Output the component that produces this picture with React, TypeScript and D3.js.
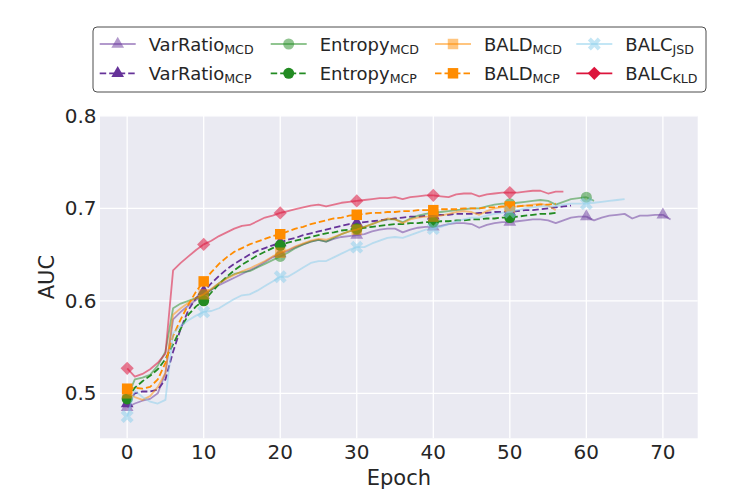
import React from 'react';
import * as d3 from 'd3';

// AUC per epoch (index = epoch)
const varRatioMCD = [
  0.485, 0.489, 0.492, 0.494, 0.500, 0.522, 0.580, 0.588, 0.595, 0.601,
  0.606, 0.612, 0.617, 0.621, 0.625, 0.629, 0.633, 0.637, 0.642, 0.647,
  0.651, 0.654, 0.658, 0.661, 0.664, 0.666, 0.664, 0.667, 0.669, 0.670,
  0.671, 0.672, 0.675, 0.677, 0.678, 0.678, 0.674, 0.677, 0.679, 0.680,
  0.680, 0.681, 0.683, 0.684, 0.684, 0.683, 0.679, 0.682, 0.684, 0.685,
  0.685, 0.686, 0.687, 0.688, 0.688, 0.687, 0.684, 0.687, 0.690, 0.691,
  0.691, 0.687, 0.690, 0.692, 0.693, 0.694, 0.689, 0.692, 0.692, 0.693,
  0.693, 0.688,
];
const varRatioMCP = [
  0.489, 0.500, 0.502, 0.502, 0.504, 0.515, 0.545, 0.570, 0.590, 0.603,
  0.610, 0.619, 0.627, 0.634, 0.640, 0.645, 0.650, 0.654, 0.657, 0.660,
  0.663, 0.666, 0.668, 0.671, 0.673, 0.675, 0.677, 0.679, 0.681, 0.683,
  0.684, 0.685, 0.686, 0.687, 0.688, 0.689, 0.690, 0.691, 0.691, 0.692,
  0.692, 0.693, 0.693, 0.694, 0.694, 0.694, 0.695, 0.695, 0.696, 0.696,
  0.696, 0.697, 0.698, 0.698, 0.699, 0.700, 0.701, 0.702, 0.703,
];
const entropyMCD = [
  0.495, 0.515, 0.517, 0.520, 0.530, 0.545, 0.592, 0.597, 0.600, 0.603,
  0.606, 0.612, 0.619, 0.625, 0.629, 0.631, 0.632, 0.636, 0.640, 0.644,
  0.648, 0.652, 0.657, 0.661, 0.664, 0.666, 0.664, 0.668, 0.672, 0.675,
  0.677, 0.680, 0.683, 0.686, 0.688, 0.688, 0.685, 0.689, 0.692, 0.694,
  0.695, 0.696, 0.697, 0.698, 0.699, 0.700, 0.700, 0.702, 0.704, 0.705,
  0.705, 0.706, 0.707, 0.708, 0.709, 0.708, 0.704, 0.707, 0.710, 0.711,
  0.712, 0.708,
];
const entropyMCP = [
  0.494, 0.506, 0.513, 0.519, 0.526, 0.537, 0.553, 0.570, 0.585, 0.594,
  0.600, 0.609, 0.618, 0.626, 0.633, 0.639, 0.644, 0.649, 0.653, 0.657,
  0.660, 0.663, 0.665, 0.667, 0.669, 0.671, 0.673, 0.674, 0.676, 0.677,
  0.678, 0.679, 0.680, 0.681, 0.682, 0.683, 0.683, 0.684, 0.684, 0.685,
  0.685, 0.686, 0.686, 0.687, 0.687, 0.688, 0.688, 0.689, 0.689, 0.690,
  0.690, 0.691, 0.692, 0.693, 0.694, 0.694, 0.695,
];
const baldMCD = [
  0.500, 0.496, 0.493, 0.497, 0.507, 0.522, 0.585, 0.592, 0.598, 0.603,
  0.607, 0.613, 0.619, 0.624, 0.628, 0.632, 0.635, 0.639, 0.643, 0.648,
  0.652, 0.655, 0.659, 0.662, 0.665, 0.667, 0.666, 0.669, 0.672, 0.675,
  0.677, 0.680, 0.683, 0.686, 0.689, 0.688, 0.684, 0.688, 0.690, 0.691,
  0.691, 0.692, 0.694, 0.696, 0.697, 0.696, 0.693, 0.697, 0.700, 0.701,
  0.701, 0.702, 0.703, 0.704, 0.705, 0.703, 0.698,
];
const baldMCP = [
  0.505, 0.506, 0.505, 0.507, 0.515, 0.533, 0.562, 0.580, 0.596, 0.610,
  0.621, 0.631, 0.640, 0.647, 0.653, 0.657, 0.661, 0.664, 0.667, 0.670,
  0.672, 0.675, 0.678, 0.680, 0.683, 0.685, 0.687, 0.689, 0.690, 0.692,
  0.693, 0.694, 0.695, 0.695, 0.696, 0.696, 0.697, 0.697, 0.698, 0.698,
  0.698, 0.699, 0.699, 0.699, 0.700, 0.700, 0.700, 0.701, 0.701, 0.702,
  0.702, 0.702, 0.703, 0.703, 0.704, 0.704, 0.705,
];
const balcJSD = [
  0.475, 0.503, 0.496, 0.491, 0.489, 0.493, 0.565, 0.573, 0.579, 0.584,
  0.588, 0.589, 0.592, 0.597, 0.602, 0.606, 0.607, 0.611, 0.616, 0.621,
  0.626, 0.626, 0.631, 0.636, 0.641, 0.643, 0.643, 0.647, 0.651, 0.655,
  0.658, 0.658, 0.662, 0.665, 0.668, 0.669, 0.668, 0.671, 0.674, 0.677,
  0.678, 0.680, 0.683, 0.686, 0.688, 0.690, 0.690, 0.692, 0.694, 0.695,
  0.696, 0.698, 0.700, 0.701, 0.702, 0.702, 0.702, 0.704, 0.705, 0.705,
  0.705, 0.706, 0.707, 0.708, 0.709, 0.710,
];
const balcKLD = [
  0.527, 0.518, 0.521, 0.526, 0.533, 0.543, 0.633, 0.641, 0.648, 0.655,
  0.661, 0.665, 0.670, 0.674, 0.678, 0.681, 0.682, 0.686, 0.690, 0.692,
  0.695, 0.697, 0.699, 0.701, 0.703, 0.704, 0.702, 0.704, 0.706, 0.707,
  0.708, 0.709, 0.710, 0.711, 0.711, 0.712, 0.710, 0.712, 0.713, 0.714,
  0.714, 0.713, 0.712, 0.715, 0.716, 0.716, 0.713, 0.715, 0.716, 0.717,
  0.717, 0.717, 0.718, 0.719, 0.719, 0.716, 0.718, 0.718,
];

const xTicks = [0, 10, 20, 30, 40, 50, 60, 70];
const yTicks = [0.5, 0.6, 0.7, 0.8];

type MarkerKind = 'triangle' | 'circle' | 'square' | 'x' | 'diamond';

interface Series {
  name: string;
  sub: string;
  values: number[];
  color: string;
  dashed: boolean;
  alpha: number;
  legendAlpha: number;
  marker: MarkerKind;
}

const PURPLE = '#663399';
const GREEN = '#228b22';
const ORANGE = '#ff8c00';
const SKY = '#87ceeb';
const CRIMSON = '#dc143c';

const series: Series[] = [
  { name: 'VarRatio', sub: 'MCD', values: varRatioMCD, color: PURPLE, dashed: false, alpha: 0.5, legendAlpha: 0.5, marker: 'triangle' },
  { name: 'VarRatio', sub: 'MCP', values: varRatioMCP, color: PURPLE, dashed: true, alpha: 1, legendAlpha: 1, marker: 'triangle' },
  { name: 'Entropy', sub: 'MCD', values: entropyMCD, color: GREEN, dashed: false, alpha: 0.5, legendAlpha: 0.5, marker: 'circle' },
  { name: 'Entropy', sub: 'MCP', values: entropyMCP, color: GREEN, dashed: true, alpha: 1, legendAlpha: 1, marker: 'circle' },
  { name: 'BALD', sub: 'MCD', values: baldMCD, color: ORANGE, dashed: false, alpha: 0.5, legendAlpha: 0.5, marker: 'square' },
  { name: 'BALD', sub: 'MCP', values: baldMCP, color: ORANGE, dashed: true, alpha: 1, legendAlpha: 1, marker: 'square' },
  { name: 'BALC', sub: 'JSD', values: balcJSD, color: SKY, dashed: false, alpha: 0.5, legendAlpha: 0.5, marker: 'x' },
  { name: 'BALC', sub: 'KLD', values: balcKLD, color: CRIMSON, dashed: false, alpha: 0.55, legendAlpha: 1, marker: 'diamond' },
];

const W = 747;
const H = 503;
const plot = { left: 100, right: 697.7, top: 115.8, bottom: 438.3 };
const FONT = '"DejaVu Sans", Verdana, sans-serif';
const TEXT = '#262626';

const x = d3.scaleLinear().domain([-3.55, 74.55]).range([plot.left, plot.right]);
const y = d3.scaleLinear().domain([0.4514, 0.8]).range([plot.bottom, plot.top]);

// filled "X" marker, like matplotlib's 'X'
const xMarker = (r: number) => {
  const w = r * 0.3;
  const pts = [
    [-w, -r], [w, -r], [w, -w], [r, -w], [r, w], [w, w],
    [w, r], [-w, r], [-w, w], [-r, w], [-r, -w], [-w, -w],
  ];
  const c = Math.SQRT1_2;
  return 'M' + pts.map(([a, b]) => `${(a - b) * c},${(a + b) * c}`).join('L') + 'Z';
};

const markerPath = (kind: MarkerKind): string => {
  switch (kind) {
    case 'triangle':
      return d3.symbol(d3.symbolTriangle, 70)() as string;
    case 'circle':
      return d3.symbol(d3.symbolCircle, 95)() as string;
    case 'square':
      return d3.symbol(d3.symbolSquare, 110)() as string;
    case 'diamond': {
      const s = 6.6;
      return `M0,${-s}L${s},0L0,${s}L${-s},0Z`;
    }
    case 'x':
      return xMarker(7);
  }
};

const line = d3
  .line<number>()
  .x((_, i) => x(i))
  .y((d) => y(d));

const Marker: React.FC<{ kind: MarkerKind; cx: number; cy: number; color: string; alpha: number }> = ({ kind, cx, cy, color, alpha }) => (
  <path d={markerPath(kind)} transform={`translate(${cx},${cy})`} fill={color} fillOpacity={alpha} stroke="none" />
);

const legendCols = [117.7, 288.7, 453, 594.3];
const legendRows = [44, 73.3];

const App: React.FC = () => {
  return (
    <svg width={W} height={H} style={{ position: 'absolute', left: 0, top: 0 }} fontFamily={FONT}>
      <rect x={0} y={0} width={W} height={H} fill="#ffffff" />
      <rect x={plot.left} y={plot.top} width={plot.right - plot.left} height={plot.bottom - plot.top} fill="#eaeaf2" />

      {/* grid */}
      {xTicks.map((t) => (
        <line key={'gx' + t} x1={x(t)} x2={x(t)} y1={plot.top} y2={plot.bottom} stroke="#fff" strokeWidth={1.3} />
      ))}
      {yTicks.map((t) => (
        <line key={'gy' + t} x1={plot.left} x2={plot.right} y1={y(t)} y2={y(t)} stroke="#fff" strokeWidth={1.3} />
      ))}

      {/* series */}
      <g>
        {series.map((s, si) => (
          <g key={si}>
            <path
              d={line(s.values) as string}
              fill="none"
              stroke={s.color}
              strokeOpacity={s.alpha}
              strokeWidth={1.8}
              strokeDasharray={s.dashed ? '6.5,3' : undefined}
              strokeLinejoin="round"
            />
            {s.values.map((v, i) =>
              i % 10 === 0 ? <Marker key={i} kind={s.marker} cx={x(i)} cy={y(v)} color={s.color} alpha={s.alpha} /> : null
            )}
          </g>
        ))}
      </g>

      {/* tick labels */}
      {xTicks.map((t) => (
        <text key={'tx' + t} x={x(t)} y={452} fontSize={20} fill={TEXT} textAnchor="middle" dominantBaseline="central">
          {t}
        </text>
      ))}
      {yTicks.map((t) => (
        <text key={'ty' + t} x={96.5} y={y(t)} fontSize={20} fill={TEXT} textAnchor="end" dominantBaseline="central">
          {d3.format('.1f')(t)}
        </text>
      ))}

      {/* axis labels */}
      <text x={(plot.left + plot.right) / 2} y={478} fontSize={21} fill={TEXT} textAnchor="middle" dominantBaseline="central">
        Epoch
      </text>
      <text
        transform={`translate(47,${(plot.top + plot.bottom) / 2}) rotate(-90)`}
        fontSize={21}
        fill={TEXT}
        textAnchor="middle"
        dominantBaseline="central"
      >
        AUC
      </text>

      {/* legend */}
      <g>
        <rect x={93} y={27} width={613} height={65} rx={4} fill="#fff" stroke="#4d4d4d" strokeWidth={1} />
        {series.map((s, si) => {
          const col = Math.floor(si / 2);
          const row = si % 2;
          const cx = legendCols[col];
          const cy = legendRows[row];
          return (
            <g key={'lg' + si}>
              <line
                x1={cx - 18}
                x2={cx + 18}
                y1={cy}
                y2={cy}
                stroke={s.color}
                strokeOpacity={s.legendAlpha}
                strokeWidth={1.8}
                strokeDasharray={s.dashed ? '6.5,3' : undefined}
              />
              <Marker kind={s.marker} cx={cx} cy={cy} color={s.color} alpha={s.legendAlpha} />
              <text x={cx + 31} y={cy} fontSize={18} fill={TEXT} dominantBaseline="central">
                {s.name}
                <tspan fontSize={12.6} dy={4.5}>
                  {s.sub}
                </tspan>
              </text>
            </g>
          );
        })}
      </g>
    </svg>
  );
};

export default App;
